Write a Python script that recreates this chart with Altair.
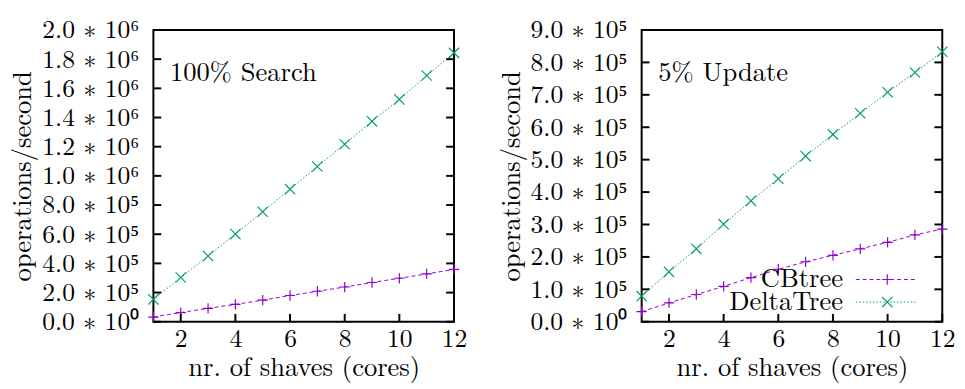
import altair as alt
import pandas as pd

cores = [1, 2, 3, 4, 5, 6, 7, 8, 9, 10, 11, 12]
series_names = ["CBtree", "DeltaTree"]
series_colors = ["#9400D3", "#009E73"]

search_cbtree = [32000, 63000, 92000, 119000, 148000, 180000, 209000, 238000, 269000, 298000, 328000, 359000]
search_delta = [153000, 303000, 451000, 601000, 754000, 909000, 1064000, 1217000, 1374000, 1524000, 1688000, 1843000]
update_cbtree = [31000, 58000, 84000, 109000, 136000, 162000, 185000, 205000, 225000, 245000, 268000, 286000]
update_delta = [79000, 154000, 225000, 301000, 373000, 441000, 511000, 578000, 643000, 708000, 769000, 833000]

x_ticks = [2, 4, 6, 8, 10, 12]
search_y_ticks = [0, 200000, 400000, 600000, 800000, 1000000, 1200000, 1400000, 1600000, 1800000, 2000000]
search_y_labels = ["0.0 ∗ 10⁰", "2.0 ∗ 10⁵", "4.0 ∗ 10⁵", "6.0 ∗ 10⁵", "8.0 ∗ 10⁵", "1.0 ∗ 10⁶",
                   "1.2 ∗ 10⁶", "1.4 ∗ 10⁶", "1.6 ∗ 10⁶", "1.8 ∗ 10⁶", "2.0 ∗ 10⁶"]
update_y_ticks = [0, 100000, 200000, 300000, 400000, 500000, 600000, 700000, 800000, 900000]
update_y_labels = ["0.0 ∗ 10⁰", "1.0 ∗ 10⁵", "2.0 ∗ 10⁵", "3.0 ∗ 10⁵", "4.0 ∗ 10⁵", "5.0 ∗ 10⁵",
                   "6.0 ∗ 10⁵", "7.0 ∗ 10⁵", "8.0 ∗ 10⁵", "9.0 ∗ 10⁵"]

FONT = "Latin Modern Roman"
LFS = 26
TFS = 27
W, H = 306, 297
TICK = 8
dashes = [[4, 3], [1.5, 2]]
shapes = ["M-1,0L1,0M0,-1L0,1", "M-1,-1L1,1M-1,1L1,-1"]


def label_expr(values, labels):
    expr = "''"
    for v, l in zip(reversed(values), reversed(labels)):
        expr = f"(datum.value == {v}) ? '{l}' : ({expr})"
    return expr


def panel(cb, dt, yticks, ylabels, ymax, title_text, show_legend):
    df = pd.DataFrame({
        "cores": cores * 2,
        "ops": cb + dt,
        "series": ["CBtree"] * len(cores) + ["DeltaTree"] * len(cores),
    })
    xscale = alt.Scale(domain=[1, 12], nice=False, zero=False)
    yscale = alt.Scale(domain=[0, ymax], nice=False)
    x_axis = alt.Axis(values=x_ticks, format="d", title="nr. of shaves (cores)",
                      ticks=False, domain=False, grid=False, labelPadding=4, titlePadding=4,
                      labelOverlap=False, labelFlush=False)
    y_axis = alt.Axis(values=yticks, labelExpr=label_expr(yticks, ylabels),
                      title="operations/second", ticks=False, domain=False, grid=False,
                      labelPadding=15, titlePadding=5, labelOverlap=False, labelFlush=False)
    color = alt.Color("series:N", scale=alt.Scale(domain=series_names, range=series_colors), legend=None)
    lines = alt.Chart(df).mark_line(strokeWidth=1).encode(
        x=alt.X("cores:Q", scale=xscale, axis=x_axis),
        y=alt.Y("ops:Q", scale=yscale, axis=y_axis),
        color=color,
        strokeDash=alt.StrokeDash("series:N", scale=alt.Scale(domain=series_names, range=dashes), legend=None))
    pts = alt.Chart(df).mark_point(filled=False, strokeWidth=1.2, size=110, opacity=1).encode(
        x=alt.X("cores:Q", scale=xscale, axis=x_axis),
        y=alt.Y("ops:Q", scale=yscale, axis=y_axis),
        color=color,
        shape=alt.Shape("series:N", scale=alt.Scale(domain=series_names, range=shapes), legend=None))

    ydf = pd.DataFrame({"v": yticks})
    xdf = pd.DataFrame({"c": x_ticks})
    lt = alt.Chart(ydf).mark_rule(color="black", strokeWidth=2).encode(
        y=alt.Y("v:Q", scale=yscale, axis=y_axis), x=alt.value(0), x2=alt.value(TICK))
    rt = alt.Chart(ydf).mark_rule(color="black", strokeWidth=2).encode(
        y=alt.Y("v:Q", scale=yscale, axis=y_axis), x=alt.value(W - TICK), x2=alt.value(W))
    bt = alt.Chart(xdf).mark_rule(color="black", strokeWidth=2).encode(
        x=alt.X("c:Q", scale=xscale, axis=x_axis), y=alt.value(H - TICK), y2=alt.value(H))

    ann = alt.Chart(pd.DataFrame({"t": [title_text]})).mark_text(
        align="left", baseline="alphabetic", font=FONT, fontSize=TFS, color="black").encode(
        text="t:N", x=alt.value(17), y=alt.value(52))

    layers = [lines, pts, lt, rt, bt, ann]
    if show_legend:
        ys = [254, 277]
        for name, col, dsh, shp, yy in zip(series_names, series_colors, dashes, shapes, ys):
            ldf = pd.DataFrame({"t": [name]})
            layers.append(alt.Chart(ldf).mark_text(
                align="right", baseline="middle", font=FONT, fontSize=TFS, color="black").encode(
                text="t:N", x=alt.value(205), y=alt.value(yy)))
            layers.append(alt.Chart(ldf).mark_rule(color=col, strokeWidth=1, strokeDash=dsh).encode(
                x=alt.value(218), x2=alt.value(280), y=alt.value(yy)))
            layers.append(alt.Chart(ldf).mark_point(color=col, filled=False, strokeWidth=1.2,
                                                    size=110, shape=shp, opacity=1).encode(
                x=alt.value(250), y=alt.value(yy)))
    return alt.layer(*layers).properties(width=W, height=H)


left = panel(search_cbtree, search_delta, search_y_ticks, search_y_labels, 2000000, "100% Search", False)
right = panel(update_cbtree, update_delta, update_y_ticks, update_y_labels, 900000, "5% Update", True)

chart = alt.hconcat(left, right, spacing=28).properties(
    padding={"top": 5, "left": 0, "right": 0, "bottom": 0}
).configure_view(
    stroke="black", strokeWidth=2
).configure_axis(
    labelFont=FONT, labelFontSize=LFS, titleFont=FONT, titleFontSize=TFS,
    labelColor="black", titleColor="black", titleFontWeight="normal",
    labelOverlap=False, labelFlush=False
)

chart.save("out.html", embed_options={"renderer": "svg", "actions": False})
